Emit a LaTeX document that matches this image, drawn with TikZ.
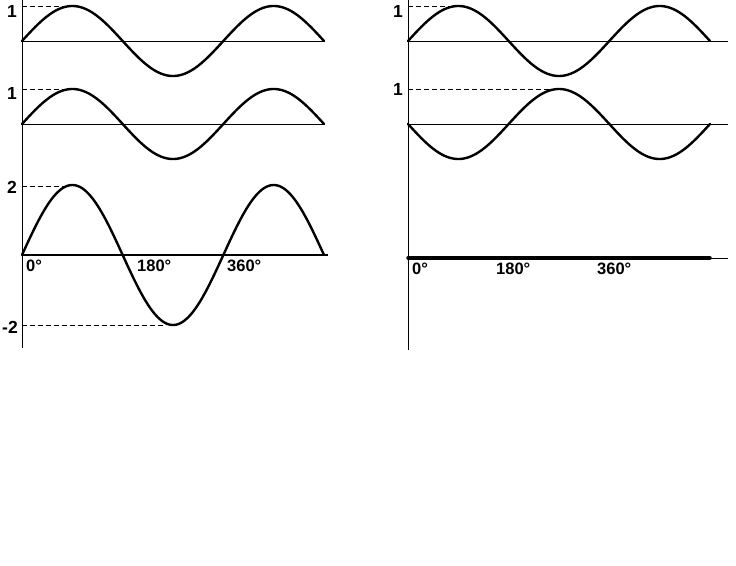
\documentclass[tikz,border=0pt]{standalone}
\usepackage{fontspec}
\setmainfont{Liberation Sans}
\begin{document}
\begin{tikzpicture}[x=1pt,y=-1pt,
  wave/.style={line width=2.4pt, line join=round, line cap=round},
  axisline/.style={line width=1pt},
  thickbase/.style={line width=2pt},
  dashline/.style={line width=0.8pt, dash pattern=on 5pt off 3pt},
  lbl/.style={font=\bfseries\fontsize{16.5}{16.5}\selectfont, inner sep=0pt},
  ylbl/.style={font=\bfseries\fontsize{17.5}{17.5}\selectfont, inner sep=0pt}]
\useasboundingbox (0,0) rectangle (736,565);
% ---------- left panel ----------
\coordinate (L0) at (22,0);
\coordinate (L1) at (22,348);
\draw[axisline] (L0) -- (L1);
% wave 1
\coordinate (a1) at (22,41); \coordinate (a2) at (324,41);
\draw[axisline] (a1) -- (a2);
\draw[wave] plot[domain=0:540,samples=181] ({22+\x*0.559259},{41-35*sin(\x)});
\coordinate (d1a) at (22,6); \coordinate (d1b) at (64,6);
\draw[dashline] (d1a) -- (d1b);
\node[ylbl, anchor=east] (l1) at (17,11) {1};
% wave 2
\coordinate (b1) at (22,124); \coordinate (b2) at (324,124);
\draw[axisline] (b1) -- (b2);
\draw[wave] plot[domain=0:540,samples=181] ({22+\x*0.559259},{124-35*sin(\x)});
\coordinate (d2a) at (22,89); \coordinate (d2b) at (66,89);
\draw[dashline] (d2a) -- (d2b);
\node[ylbl, anchor=east] (l2) at (17,93) {1};
% wave 3
\coordinate (c1) at (22,255); \coordinate (c2) at (328,255);
\draw[thickbase] (c1) -- (c2);
\draw[wave] plot[domain=0:540,samples=181] ({22+\x*0.559259},{255-70*sin(\x)});
\coordinate (d3a) at (22,186); \coordinate (d3b) at (66,186);
\draw[dashline] (d3a) -- (d3b);
\coordinate (d4a) at (22,325); \coordinate (d4b) at (166,325);
\draw[dashline] (d4a) -- (d4b);
\node[ylbl, anchor=east] (l3) at (17,187) {2};
\node[ylbl, anchor=east] (l4) at (18,327) {-2};
\node[lbl, anchor=west] (t0) at (26,266) {0°};
\node[lbl, anchor=west] (t180) at (137,266) {180°};
\node[lbl, anchor=west] (t360) at (227,266) {360°};
% ---------- right panel ----------
\coordinate (R0) at (408,0);
\coordinate (R1) at (408,350);
\draw[axisline] (R0) -- (R1);
% wave 1
\coordinate (e1) at (408,41); \coordinate (e2) at (728,41);
\draw[axisline] (e1) -- (e2);
\draw[wave] plot[domain=0:540,samples=181] ({408+\x*0.559259},{41-35*sin(\x)});
\coordinate (f1a) at (408,6); \coordinate (f1b) at (450,6);
\draw[dashline] (f1a) -- (f1b);
\node[ylbl, anchor=east] (r1) at (403,11) {1};
% wave 2 (inverted)
\coordinate (g1) at (408,124); \coordinate (g2) at (728,124);
\draw[axisline] (g1) -- (g2);
\draw[wave] plot[domain=0:540,samples=181] ({408+\x*0.559259},{124+35*sin(\x)});
\coordinate (f2a) at (408,89); \coordinate (f2b) at (550,89);
\draw[dashline] (f2a) -- (f2b);
\node[ylbl, anchor=east] (r2) at (403,89) {1};
% sum: flat
\coordinate (h1) at (408,258); \coordinate (h2) at (710,258); \coordinate (h3) at (728,258);
\draw[line width=3.5pt, line cap=round] (h1) -- (h2);
\draw[axisline] (h2) -- (h3);
\node[lbl, anchor=west] (s0) at (412,269) {0°};
\node[lbl, anchor=west] (s180) at (496,269) {180°};
\node[lbl, anchor=west] (s360) at (597,269) {360°};
\end{tikzpicture}
\end{document}
